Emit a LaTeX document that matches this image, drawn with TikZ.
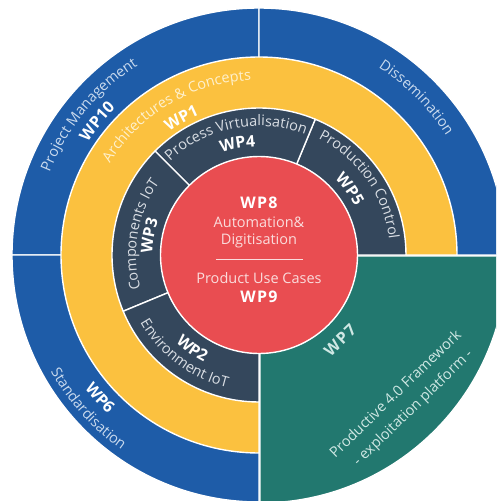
\documentclass[tikz,border=0pt]{standalone}
\usepackage{fontspec}
\setmainfont{Open Sans}
\usetikzlibrary{decorations.text}
\definecolor{blueC}{HTML}{1E5CA8}
\definecolor{yellowC}{HTML}{FBC13F}
\definecolor{darkC}{HTML}{34475C}
\definecolor{redC}{HTML}{E94D51}
\definecolor{greenC}{HTML}{22786F}
\definecolor{bluetxt}{HTML}{C9DAEE}
\definecolor{yellowtxt}{HTML}{FEF0CC}
\definecolor{darktxt}{HTML}{D9DEE4}
\definecolor{redtxt}{HTML}{FADCDC}
\definecolor{greentxt}{HTML}{CFE8E4}
\newcommand\rtxt{\fontsize{14.5}{16}\selectfont}
\newcommand\btxt{\fontsize{16}{18}\selectfont\bfseries\addfontfeatures{LetterSpace=8}}
% clockwise label (letter tops outward)
\newcommand\cwlabel[5]{%
  \path[decorate, decoration={text along path, text align=center, text color=#3, text={|#4|#5}}]
    ({#1+60}:#2) arc[start angle={#1+60}, end angle={#1-60}, radius=#2];}
% counterclockwise label (letter tops inward)
\newcommand\ccwlabel[5]{%
  \path[decorate, decoration={text along path, text align=center, text color=#3, text={|#4|#5}}]
    ({#1-60}:#2) arc[start angle={#1-60}, end angle={#1+60}, radius=#2];}
\begin{document}
\begin{tikzpicture}[x=1pt, y=1pt,
  seg/.style={draw=white, line width=1.4pt, line join=round},
  ctext/.style={font=\rtxt, text=redtxt, inner sep=0pt},
  cbold/.style={font=\btxt, text=white, inner sep=0pt},
  gtext/.style={font=\rtxt, text=greentxt, inner sep=0pt, rotate=44}]
\useasboundingbox (-259,-246) rectangle (237,255);
\clip (-259,-246) rectangle (237,255);
\fill[white] (-259,-246) rectangle (237,255);
% outer blue ring
\path[seg, fill=blueC] (0,0) -- (90:247) arc[start angle=90, end angle=180, radius=247] -- cycle;
\path[seg, fill=blueC] (0,0) -- (0:247) arc[start angle=0, end angle=90, radius=247] -- cycle;
\path[seg, fill=blueC] (0,0) -- (180:247) arc[start angle=180, end angle=270, radius=247] -- cycle;
% green quadrant
\path[seg, fill=greenC] (1,-1) -- ++(270:247) arc[start angle=270, end angle=360, radius=247] -- cycle;
% yellow ring
\path[seg, fill=yellowC] (0,0) -- (0:198) arc[start angle=0, end angle=270, radius=198] -- cycle;
% dark ring
\foreach \a in {0,67.5,135,202.5}
  \path[seg, fill=darkC] (0,0) -- (\a:147) arc[start angle=\a, delta angle=67.5, radius=147] -- cycle;
% red centre
\path[seg, fill=redC] (0,0) circle[radius=98.5];
% ring labels
\cwlabel{140.5}{225}{bluetxt}{\rtxt}{Project Management}
\cwlabel{140.5}{205}{white}{\btxt}{WP10}
\cwlabel{45}{222}{bluetxt}{\rtxt}{Dissemination}
\ccwlabel{222}{219.5}{white}{\btxt}{WP6}
\ccwlabel{222}{238.5}{bluetxt}{\rtxt}{Standardisation}
\cwlabel{120.5}{175}{yellowtxt}{\rtxt}{Architectures {\&} Concepts}
\cwlabel{119.5}{152.5}{white}{\btxt}{WP1}
\cwlabel{101.25}{129}{darktxt}{\rtxt}{Process Virtualisation}
\cwlabel{101}{108.5}{white}{\btxt}{WP4}
\cwlabel{35}{131}{darktxt}{\rtxt}{Production Control}
\cwlabel{36}{107.5}{white}{\btxt}{WP5}
\cwlabel{170}{123}{darktxt}{\rtxt}{Components IoT}
\cwlabel{170}{106.5}{white}{\btxt}{WP3}
\ccwlabel{233}{136.5}{darktxt}{\rtxt}{Environment IoT}
\ccwlabel{234.5}{120.5}{white}{\btxt}{WP2}
% centre texts
\node[cbold] (wp8) at (0,52) {WP8};
\node[ctext] (auto) at (0,33) {Automation\&};
\node[ctext] (digi) at (0,14) {Digitisation};
\coordinate (sepL) at (-43,-4.3);
\coordinate (sepR) at (44,-4.3);
\draw[redtxt, line width=1.4pt] (sepL) -- (sepR);
\node[ctext] (puc) at (0,-22.7) {Product Use Cases};
\node[cbold] (wp9) at (0,-41.7) {WP9};
% green texts
\node[cbold, text=greentxt, rotate=44] (wp7) at (81,-85) {WP7};
\node[gtext] (p40) at (136,-138.3) {Productive 4.0 Framework};
\node[gtext] (expl) at (154.3,-153.3) {- exploitation platform -};
\end{tikzpicture}
\end{document}
